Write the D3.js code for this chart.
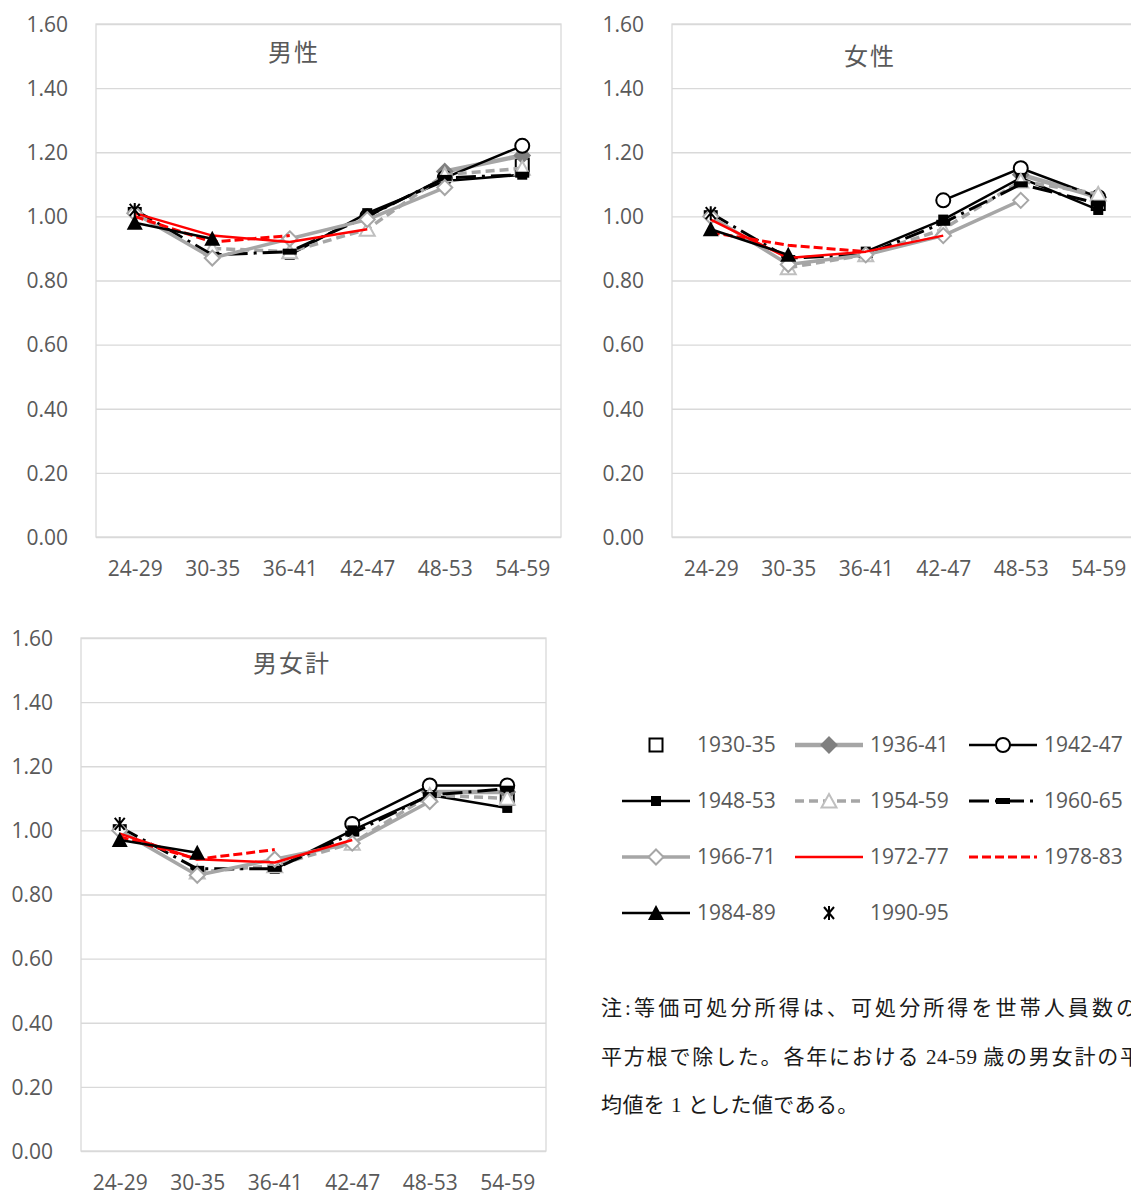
<!DOCTYPE html>
<html>
<head>
<meta charset="utf-8">
<script src="https://cdn.jsdelivr.net/npm/d3@7"></script>
<style>
  html, body { margin: 0; padding: 0; background: #fff; overflow: hidden; }
  svg { display: block; }
</style>
</head>
<body>
<svg id="chart" width="1131" height="1196"></svg>
<script>
// Age groups on the x axis
const ageGroups = ["24-29", "30-35", "36-41", "42-47", "48-53", "54-59"];
// Birth cohorts (one line per cohort)
const cohorts = ["1930-35", "1936-41", "1942-47", "1948-53", "1954-59", "1960-65",
                 "1966-71", "1972-77", "1978-83", "1984-89", "1990-95"];
// Y axis ticks
const yTicks = [0, 0.2, 0.4, 0.6, 0.8, 1.0, 1.2, 1.4, 1.6];

// Relative equivalent disposable income, by cohort (rows) and age group (columns)
const maleValues = [
  [null, null, null, null, null, 1.16],
  [null, null, null, null, 1.14, 1.19],
  [null, null, null, 1.00, 1.12, 1.22],
  [null, null, 0.88, 1.01, 1.11, 1.13],
  [null, 0.90, 0.89, 0.96, 1.13, 1.15],
  [1.02, 0.88, 0.89, 1.00, 1.12, 1.13],
  [1.01, 0.87, 0.93, 0.99, 1.09, null],
  [1.01, 0.94, 0.92, 0.96, null, null],
  [1.00, 0.92, 0.94, null, null, null],
  [0.98, 0.93, null, null, null, null],
  [1.02, null, null, null, null, null]
];
const femaleValues = [
  [null, null, null, null, null, 1.04],
  [null, null, null, null, 1.13, 1.06],
  [null, null, null, 1.05, 1.15, 1.06],
  [null, null, 0.89, 0.99, 1.12, 1.02],
  [null, 0.84, 0.88, 0.96, 1.11, 1.07],
  [1.01, 0.87, 0.88, 0.98, 1.10, 1.04],
  [1.00, 0.85, 0.88, 0.94, 1.05, null],
  [0.99, 0.87, 0.89, 0.94, null, null],
  [0.95, 0.91, 0.89, null, null, null],
  [0.96, 0.88, null, null, null, null],
  [1.01, null, null, null, null, null]
];
const totalValues = [
  [null, null, null, null, null, 1.10],
  [null, null, null, null, 1.12, 1.12],
  [null, null, null, 1.02, 1.14, 1.14],
  [null, null, 0.88, 1.00, 1.11, 1.07],
  [null, 0.87, 0.89, 0.96, 1.11, 1.10],
  [1.01, 0.88, 0.88, 0.99, 1.11, 1.13],
  [1.00, 0.86, 0.91, 0.96, 1.09, null],
  [0.99, 0.91, 0.90, 0.97, null, null],
  [0.98, 0.91, 0.94, null, null, null],
  [0.97, 0.93, null, null, null, null],
  [1.02, null, null, null, null, null]
];

const panelTitles = ["男性", "女性", "男女計"];
const noteLines = [
  "注:等価可処分所得は、可処分所得を世帯人員数の",
  "平方根で除した。各年における 24-59 歳の男女計の平",
  "均値を 1 とした値である。"
];

// Line and marker style per cohort
const styles = [
  { line: null,      width: 0,   dash: null,          marker: "square",   fill: "#fff",    stroke: "#000" },
  { line: "#a6a6a6", width: 4.5, dash: null,          marker: "diamond",  fill: "#7f7f7f", stroke: "#7f7f7f" },
  { line: "#000",    width: 2.5, dash: null,          marker: "circle",   fill: "#fff",    stroke: "#000" },
  { line: "#000",    width: 2.5, dash: null,          marker: "fsquare",  fill: "#000",    stroke: "#000" },
  { line: "#a6a6a6", width: 3.5, dash: "9,5",         marker: "triangle", fill: "#fff",    stroke: "#bfbfbf" },
  { line: "#000",    width: 3,   dash: "20,6,3,6",    marker: "bar",      fill: "#000",    stroke: "#000" },
  { line: "#a6a6a6", width: 3.5, dash: null,          marker: "diamond",  fill: "#fff",    stroke: "#a6a6a6" },
  { line: "#ff0000", width: 2.5, dash: null,          marker: null },
  { line: "#ff0000", width: 3,   dash: "9,4",         marker: null },
  { line: "#000",    width: 2.5, dash: null,          marker: "ftriangle", fill: "#000",   stroke: "#000" },
  { line: null,      width: 0,   dash: null,          marker: "asterisk", fill: "none",    stroke: "#000" }
];

const svg = d3.select("#chart");
svg.append("rect").attr("width", 1131).attr("height", 1196).attr("fill", "#fff");

const textColor = "#595959";
const gridColor = "#d9d9d9";
const latinFont = "'Open Sans', 'Noto Sans', sans-serif";
const cjkFont = "'Noto Sans CJK JP', sans-serif";
const labelSize = "21px";

function drawMarker(g, type, cx, cy, st) {
  if (!type) return;
  const m = g.append("g").attr("transform", `translate(${cx},${cy})`);
  if (type === "square") {
    m.append("rect").attr("x", -6.5).attr("y", -6.5).attr("width", 13).attr("height", 13)
      .attr("fill", st.fill).attr("stroke", st.stroke).attr("stroke-width", 2);
  } else if (type === "fsquare") {
    m.append("rect").attr("x", -5).attr("y", -5).attr("width", 10).attr("height", 10)
      .attr("fill", st.fill);
  } else if (type === "circle") {
    m.append("circle").attr("r", 7).attr("fill", st.fill).attr("stroke", st.stroke).attr("stroke-width", 2);
  } else if (type === "diamond") {
    m.append("path").attr("d", "M0,-7.5L7.5,0L0,7.5L-7.5,0Z")
      .attr("fill", st.fill).attr("stroke", st.stroke).attr("stroke-width", 2);
  } else if (type === "triangle") {
    m.append("path").attr("d", "M0,-7L7.5,6.5L-7.5,6.5Z")
      .attr("fill", st.fill).attr("stroke", st.stroke).attr("stroke-width", 2);
  } else if (type === "ftriangle") {
    m.append("path").attr("d", "M0,-8L8,7L-8,7Z").attr("fill", st.fill);
  } else if (type === "bar") {
    m.append("rect").attr("x", -7).attr("y", -3).attr("width", 14).attr("height", 6).attr("fill", st.fill);
  } else if (type === "asterisk") {
    m.append("path").attr("d", "M-5,-6L5,6M-5,6L5,-6M0,-7L0,7")
      .attr("stroke", st.stroke).attr("stroke-width", 2).attr("fill", "none");
  }
}

function drawPanel(cfg) {
  const { left, right, top, bottom, values, title, titleX, titleY, labelRight } = cfg;
  const g = svg.append("g");
  const x = d3.scalePoint().domain(ageGroups).range([left, right]).padding(0.5);
  const y = d3.scaleLinear().domain([0, 1.6]).range([bottom, top]);

  // horizontal gridlines
  const grid = g.append("g").attr("transform", `translate(${left},0)`)
    .call(d3.axisLeft(y).tickValues(yTicks).tickSize(-(right - left)).tickFormat(""));
  grid.select(".domain").remove();
  grid.selectAll("line").attr("stroke", gridColor).attr("stroke-width", 1.3);

  // plot-area frame
  g.append("rect").attr("x", left).attr("y", top).attr("width", right - left).attr("height", bottom - top)
    .attr("fill", "none").attr("stroke", gridColor).attr("stroke-width", 1.3);

  // y tick labels
  const ya = g.append("g").attr("transform", `translate(${labelRight},0)`)
    .call(d3.axisLeft(y).tickValues(yTicks).tickSize(0).tickPadding(0).tickFormat(d3.format(".2f")));
  ya.select(".domain").remove();
  ya.selectAll("text").attr("fill", textColor).style("font-family", latinFont).style("font-size", labelSize)
    .attr("dy", "0.35em");

  // x tick labels
  const xa = g.append("g").attr("transform", `translate(0,${bottom})`)
    .call(d3.axisBottom(x).tickSize(0).tickPadding(24));
  xa.select(".domain").remove();
  xa.selectAll("text").attr("fill", textColor).style("font-family", latinFont).style("font-size", labelSize);

  // title
  g.append("text").attr("x", titleX).attr("y", titleY).attr("text-anchor", "middle")
    .attr("dominant-baseline", "central").attr("fill", textColor)
    .style("font-family", cjkFont).style("font-size", "24px").style("letter-spacing", "2px")
    .text(title);

  const line = d3.line().defined(d => d.v != null).x(d => x(d.a)).y(d => y(d.v));

  cohorts.forEach((c, i) => {
    const st = styles[i];
    const pts = ageGroups.map((a, j) => ({ a, v: values[i][j] }));
    const sg = g.append("g").attr("class", "series");
    if (st.line) {
      sg.append("path").datum(pts).attr("d", line).attr("fill", "none")
        .attr("stroke", st.line).attr("stroke-width", st.width)
        .attr("stroke-dasharray", st.dash).attr("stroke-linejoin", "round");
    }
    pts.filter(p => p.v != null).forEach(p => drawMarker(sg, st.marker, x(p.a), y(p.v), st));
  });
}

drawPanel({ left: 96, right: 561, top: 24, bottom: 537, values: maleValues, title: panelTitles[0],
  titleX: 294, titleY: 50, labelRight: 68 });
drawPanel({ left: 672, right: 1137, top: 24, bottom: 537, values: femaleValues, title: panelTitles[1],
  titleX: 870, titleY: 54, labelRight: 644 });
drawPanel({ left: 81, right: 546, top: 638, bottom: 1151, values: totalValues, title: panelTitles[2],
  titleX: 292, titleY: 661, labelRight: 53 });

// legend
const legendCols = [656, 829, 1003];
const legendRows = [745, 801, 857, 913];
const lg = svg.append("g");
cohorts.forEach((c, i) => {
  const st = styles[i];
  const cx = legendCols[i % 3], cy = legendRows[Math.floor(i / 3)];
  if (st.line) {
    lg.append("line").attr("x1", cx - 34).attr("x2", cx + 34).attr("y1", cy).attr("y2", cy)
      .attr("stroke", st.line).attr("stroke-width", st.width).attr("stroke-dasharray", st.dash);
  }
  drawMarker(lg, st.marker, cx, cy, st);
  lg.append("text").attr("x", cx + 41).attr("y", cy).attr("dy", "0.35em")
    .attr("fill", textColor).style("font-family", latinFont).style("font-size", labelSize).text(c);
});

// note: justified lines get wider spacing on the Japanese runs; digit runs stay tight
const noteSpacing = [3.1, 1.8, 0.4];
const note = svg.append("g");
noteLines.forEach((t, i) => {
  const txt = note.append("text").attr("x", 601).attr("y", 1008 + i * 48.5)
    .attr("dominant-baseline", "central").attr("fill", "#1a1a1a")
    .style("font-family", "'Liberation Serif', 'Noto Sans CJK JP', serif").style("font-size", "21px")
    .attr("xml:space", "preserve");
  t.split(/( ?[0-9][0-9\-]* ?)/).filter(s => s.length).forEach(seg => {
    const latin = /[0-9]/.test(seg);
    txt.append("tspan").style("letter-spacing", latin ? "0.5px" : noteSpacing[i] + "px").text(seg);
  });
});
</script>
</body>
</html>
